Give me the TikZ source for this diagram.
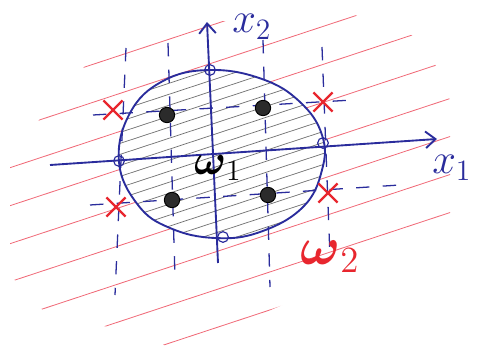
\documentclass[tikz,border=0pt]{standalone}
\usepackage{amsmath}
\usepackage{tikz}
\usetikzlibrary{arrows.meta,shapes.misc}
\definecolor{ink}{HTML}{2A2C9C}
\definecolor{redmark}{HTML}{E8262E}
\definecolor{pinkline}{HTML}{F06A78}
\definecolor{hatch}{HTML}{707070}
\definecolor{dotfill}{HTML}{2B2B2B}
\newcommand\ballshape{plot[smooth cycle,tension=0.7] coordinates {(210,70) (262,79) (300,102) (322,135) (322,170) (303,207) (260,232) (215,238) (170,228) (138,205) (119,162) (130,113) (163,81)}}
\tikzset{
  >={Straight Barb[length=3mm,width=5mm]},
  axis/.style={->,line width=1.6pt,draw=ink},
  gridline/.style={line width=1.1pt,draw=ink,dash pattern=on 4mm off 4mm},
  rim/.style={line width=1.6pt,draw=ink},
  shade/.style={line width=0.6pt,draw=hatch},
  outside/.style={line width=0.7pt,draw=pinkline},
  sample/.style={circle,fill=dotfill,draw=black,line width=0.8pt,minimum size=4.6mm,inner sep=0pt},
  xmark/.style={cross out,draw=redmark,line width=2pt,minimum size=5mm,inner sep=0pt},
  hole/.style={circle,draw=ink,line width=1pt,minimum size=3.2mm,inner sep=0pt},
  axlabel/.style={text=ink,font=\LARGE,scale=2.1,inner sep=0pt},
  classlabel/.style={font=\LARGE,scale=2.1,inner sep=0pt}
}

\begin{document}
\begin{tikzpicture}[x=0.03cm,y=-0.03cm]
  \useasboundingbox (0,0) rectangle (485,349);

  % omega_2 region, outside the ball
  \begin{scope}
    \clip (95,55) -- (205,22) -- (355,15) -- (425,40) -- (450,100) -- (450,235) -- (175,350) -- (130,330) -- (50,318) -- (10,275) -- (10,160) -- (50,105) -- cycle;
    \foreach \c in {95,133,...,399}
      \draw[outside] (0,\c) -- (485,\c-160);
  \end{scope}
  \fill[white] \ballshape;

  % omega_1 region, inside the ball
  \begin{scope}
    \clip \ballshape;
    \foreach \c in {128,139,...,320}
      \draw[shade] (100,\c-33) -- (340,\c-112);
  \end{scope}

  % dashed grid
  \coordinate (v1a) at (126,48);  \coordinate (v1b) at (115,295);
  \coordinate (v2a) at (168,43);  \coordinate (v2b) at (175,277);
  \coordinate (v3a) at (263,40);  \coordinate (v3b) at (270,287);
  \coordinate (v4a) at (322,47);  \coordinate (v4b) at (330,257);
  \coordinate (h1a) at (93,115);  \coordinate (h1b) at (353,100);
  \coordinate (h2a) at (90,205);  \coordinate (h2b) at (400,185);
  \draw[gridline] (v1a) -- (v1b);
  \draw[gridline] (v2a) -- (v2b);
  \draw[gridline] (v3a) -- (v3b);
  \draw[gridline] (v4a) -- (v4b);
  \draw[gridline] (h1a) -- (h1b);
  \draw[gridline] (h2a) -- (h2b);

  % axes
  \coordinate (x1s) at (50,165);  \coordinate (x1e) at (437,139);
  \coordinate (x2s) at (218,263); \coordinate (x2e) at (207,22);
  \draw[axis] (x1s) -- (x1e);
  \draw[axis] (x2s) -- (x2e);

  \draw[rim] \ballshape;

  % points on the rim
  \node[hole] (ptop) at (210,70) {};
  \node[hole] (pright) at (323,143) {};
  \node[hole] (pbot) at (223,237) {};
  \node[hole] (pleft) at (119,161) {};

  % samples of omega_1
  \node[sample] (s1) at (167,115) {};
  \node[sample] (s2) at (263,108) {};
  \node[sample] (s3) at (172,200) {};
  \node[sample] (s4) at (268,195) {};

  % samples of omega_2
  \node[xmark] (f1) at (113,110) {};
  \node[xmark] (f2) at (323,102) {};
  \node[xmark] (f3) at (116,207) {};
  \node[xmark] (f4) at (328,193) {};

  \node[axlabel] (lx2) at (252,27) {$x_2$};
  \node[axlabel] (lx1) at (452,168) {$x_1$};
  \node[classlabel] (w1) at (218,168) {$\boldsymbol{\omega}_1$};
  \node[classlabel,scale=1.25,text=redmark] (w2) at (330,257) {$\boldsymbol{\omega}_2$};
\end{tikzpicture}
\end{document}
